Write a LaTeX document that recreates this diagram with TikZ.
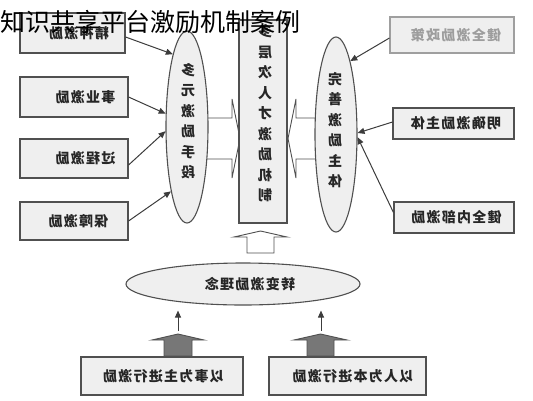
\documentclass[tikz,border=0pt]{standalone}
\usepackage{graphicx}
\usepackage{fontspec}
\usetikzlibrary{shapes.geometric,arrows.meta}
\newfontfamily\cjk{Noto Sans CJK SC}
\newfontfamily\cjkb{Noto Sans CJK SC}[LetterSpace=9]
\newcommand\mr[1]{\reflectbox{#1}}
\newcommand\sh[2]{\hspace*{#1pt}\reflectbox{#2}}
\definecolor{boxline}{HTML}{505050}
\definecolor{boxfill}{HTML}{EFEFEF}
\definecolor{txt}{HTML}{262626}
\definecolor{arrowc}{HTML}{3C3C3C}
\definecolor{darkarrow}{HTML}{777777}
\tikzset{
  btxt/.style={font=\cjkb\bfseries\fontsize{14}{20.5}\selectfont, text=txt},
  bx/.style={rectangle, draw=boxline, line width=1.1pt, fill=boxfill, inner sep=0pt, btxt},
  ell/.style={ellipse, draw=boxline, line width=1.1pt, fill=boxfill, inner sep=0pt},
  vtxt/.style={btxt, align=center, inner sep=0pt},
  conn/.style={draw=arrowc, line width=1pt, -{Triangle[length=7pt,width=6pt]}},
  blockw/.style={draw=boxline, line width=0.9pt, fill=white},
  blockd/.style={draw=boxline, line width=0.9pt, fill=darkarrow},
}
\begin{document}
\begin{tikzpicture}[x=1pt,y=-1pt]
\useasboundingbox (0,0) rectangle (533,400);
% block arrows (drawn first, covered by shapes)
\filldraw[blockw] (200,118) -- (232,118) -- (232,99) -- (240,138.5) -- (232,178) -- (232,159) -- (200,159);
\filldraw[blockw] (325,118) -- (296,118) -- (296,99) -- (288,138.5) -- (296,178) -- (296,159) -- (325,159);
\filldraw[blockw] (247,253) -- (247,237) -- (234,237) -- (260.5,231) -- (287,237) -- (274,237) -- (274,253) -- cycle;
\filldraw[blockd] (164,356) -- (164,340) -- (152,340) -- (178,334) -- (204,340) -- (192,340) -- (192,356) -- cycle;
\filldraw[blockd] (307,356) -- (307,340) -- (294,340) -- (320.5,334) -- (347,340) -- (334,340) -- (334,356) -- cycle;

% left boxes
\node[bx, minimum width=105pt, minimum height=40pt] (b1) at (72.5,33) {\sh{13}{精神激励}};
\node[bx, minimum width=108pt, minimum height=40pt] (b2) at (74,97) {\sh{23}{事业激励}};
\node[bx, minimum width=108pt, minimum height=39pt] (b3) at (74,158.5) {\sh{23}{过程激励}};
\node[bx, minimum width=108pt, minimum height=38pt] (b4) at (74,221) {\sh{9}{保障激励}};

% right boxes
\node[bx, draw=boxline!55, minimum width=124pt, minimum height=36pt, text=txt!45] (r1) at (452,35) {\sh{8}{健全激励政策}};
\node[bx, minimum width=121pt, minimum height=31pt] (r2) at (453.5,123.5) {\sh{5}{明确激励主体}};
\node[bx, minimum width=120pt, minimum height=31pt] (r3) at (454,217.5) {\sh{5}{健全内部激励}};

% ellipses and central column
\node[ell, minimum width=42pt, minimum height=192pt] (le) at (187,127) {};
\node[vtxt] (lt) at (188,121) {\mr{多}\\\mr{元}\\\mr{激}\\\mr{励}\\\mr{手}\\\mr{段}};
\node[ell, minimum width=42pt, minimum height=195pt] (re) at (336,134.5) {};
\node[vtxt] (rt) at (335,130) {\mr{完}\\\mr{善}\\\mr{激}\\\mr{励}\\\mr{主}\\\mr{体}};
\node[bx, minimum width=48pt, minimum height=203pt] (mid) at (263,121.5) {};
\node[vtxt] (mt) at (265,113.5) {\mr{多}\\\mr{层}\\\mr{次}\\\mr{人}\\\mr{才}\\\mr{激}\\\mr{励}\\\mr{机}\\\mr{制}};

% bottom
\node[ell, btxt, minimum width=234pt, minimum height=42pt] (be) at (243,284) {\sh{14}{转变激励理念}};
\node[bx, minimum width=162pt, minimum height=38pt] (bb1) at (162,376) {\sh{3}{以事为主进行激励}};
\node[bx, minimum width=157pt, minimum height=38pt] (bb2) at (347.5,376) {\sh{11}{以人为本进行激励}};

% connectors
\draw[conn] ([yshift=-4pt]b1.east) -- (le.101);
\draw[conn] (b2.east) -- (le.148);
\draw[conn] ([yshift=-6.5pt]b3.east) -- (le.191);
\draw[conn] (b4.east) -- (le.256);
\draw[conn] ([yshift=-3pt]r1.west) -- (re.79);
\draw[conn] ([yshift=1.5pt]r2.west) -- (re.4);
\draw[conn] ([yshift=5pt]r3.west) -- (re.353);
\coordinate (s1) at (178,331);
\coordinate (s2) at (321,331);
\draw[conn, shorten >=5pt] (s1) -- (be.south -| s1);
\draw[conn, shorten >=5pt] (s2) -- (be.south -| s2);

% title
\node[anchor=base west, inner sep=0pt, font=\cjk\fontsize{25}{25}\selectfont, text=black] (title) at (0,31) {知识共享平台激励机制案例};
\end{tikzpicture}
\end{document}
